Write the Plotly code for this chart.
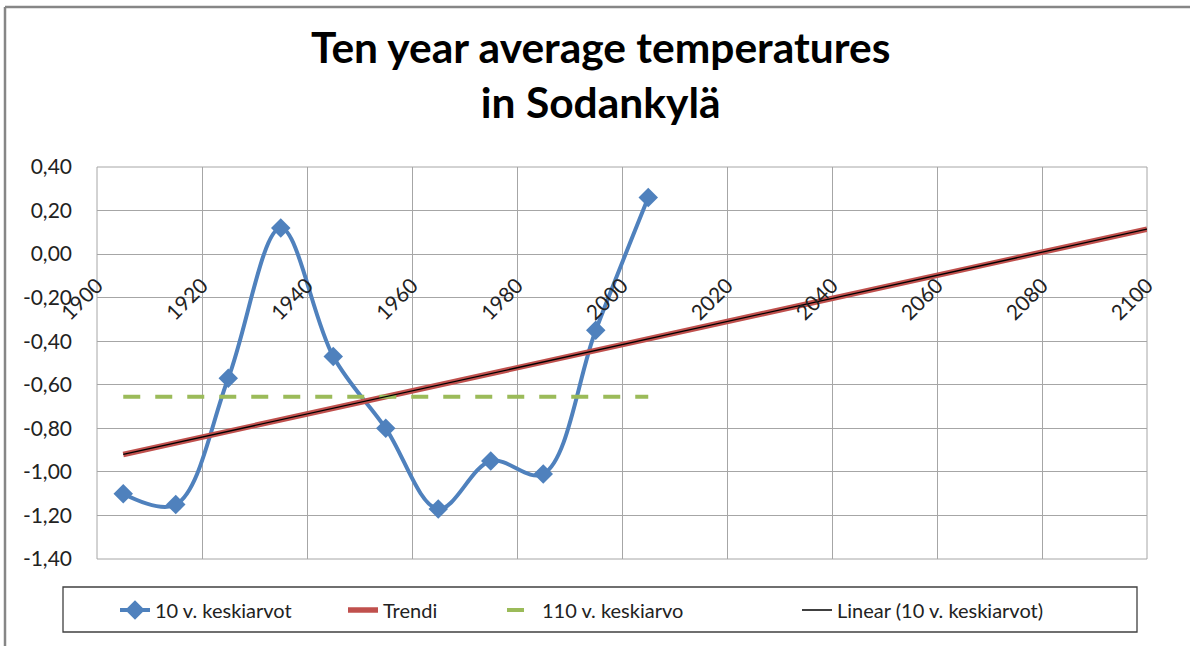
import plotly.graph_objects as go

# ---- data ----
decades = [1905, 1915, 1925, 1935, 1945, 1955, 1965, 1975, 1985, 1995, 2005]
avg10 = [-1.10, -1.15, -0.57, 0.12, -0.47, -0.80, -1.17, -0.95, -1.01, -0.35, 0.26]
trend_years = [1905, 2100]
trend_values = [-0.92, 0.115]
avg110_years = [1905, 2005]
avg110_values = [-0.655, -0.655]
x_ticks = [1900, 1920, 1940, 1960, 1980, 2000, 2020, 2040, 2060, 2080, 2100]
x_tick_labels = [str(v) for v in x_ticks]
y_ticks = [-1.4, -1.2, -1.0, -0.8, -0.6, -0.4, -0.2, 0.0, 0.2, 0.4]
y_tick_labels = ["-1,40", "-1,20", "-1,00", "-0,80", "-0,60", "-0,40", "-0,20", "0,00", "0,20", "0,40"]

FONT = "Lato"
W, H = 1190, 646
L, R, T, B = 97, 43, 167, 87
pw, ph = W - L - R, H - T - B

def px_x(p):
    return (p - L) / pw

def px_y(p):
    return (H - B - p) / ph

fig = go.Figure()

fig.add_trace(go.Scatter(
    x=decades, y=avg10, mode="lines+markers", name="10 v. keskiarvot",
    line=dict(color="#4F81BD", width=4, shape="spline", smoothing=1),
    marker=dict(symbol="diamond", size=15, color="#4F81BD"),
    legendwidth=183,
))
fig.add_trace(go.Scatter(
    x=trend_years, y=trend_values, mode="lines", name="Trendi",
    line=dict(color="#C0504D", width=5.5),
    legendwidth=114,
))
fig.add_trace(go.Scatter(
    x=avg110_years, y=avg110_values, mode="lines", name="110 v. keskiarvo",
    line=dict(color="#9BBB59", width=4, dash="17px,15px"),
    legendwidth=250,
))
fig.add_trace(go.Scatter(
    x=trend_years, y=trend_values, mode="lines", name="Linear (10 v. keskiarvot)",
    line=dict(color="#000000", width=1.3),
    legendwidth=280,
))

y0 = (0 - (-1.4)) / 1.8

fig.update_layout(
    width=W, height=H,
    margin=dict(l=L, r=R, t=T, b=B, pad=0),
    paper_bgcolor="white", plot_bgcolor="white",
    font=dict(family=FONT, size=20, color="#333333"),
    showlegend=True,
    legend=dict(
        orientation="h", x=px_x(115), xanchor="left", y=px_y(610), yanchor="middle",
        font=dict(family=FONT, size=20, color="#222222"),
        bgcolor="rgba(0,0,0,0)", borderwidth=0,
    ),
    xaxis=dict(
        range=[1900, 2100], tickvals=x_ticks, ticktext=x_tick_labels, tickangle=-45,
        showgrid=True, gridcolor="#A6A6A6", gridwidth=1, zeroline=False,
        showline=False, ticks="", anchor="free", position=y0,
        ticklabelstandoff=14,
        tickfont=dict(family=FONT, size=21, color="#222222"),
    ),
    yaxis=dict(
        range=[-1.4, 0.4], tickvals=y_ticks, ticktext=y_tick_labels,
        showgrid=True, gridcolor="#A6A6A6", gridwidth=1, zeroline=False,
        showline=False, ticks="", ticklabelstandoff=24,
        tickfont=dict(family=FONT, size=21, color="#222222"),
    ),
    annotations=[dict(
        text="<b>Ten year average temperatures<br>in Sodankylä</b>",
        xref="paper", yref="paper", x=px_x(600), y=px_y(19), xanchor="center", yanchor="top",
        showarrow=False, font=dict(family=FONT, size=42.5, color="#000000"),
    )],
    shapes=[
        dict(type="rect", xref="x domain", yref="y domain", x0=0, x1=1, y0=0, y1=1,
             line=dict(color="#A6A6A6", width=1), layer="below"),
        dict(type="rect", xref="paper", yref="paper",
             x0=px_x(63), x1=px_x(1137), y0=px_y(632), y1=px_y(587),
             line=dict(color="#404040", width=1.3)),
        dict(type="line", xref="paper", yref="paper",
             x0=px_x(5), x1=px_x(1200), y0=px_y(7), y1=px_y(7),
             line=dict(color="#868686", width=2.5)),
        dict(type="line", xref="paper", yref="paper",
             x0=px_x(5), x1=px_x(5), y0=px_y(7), y1=px_y(660),
             line=dict(color="#868686", width=2.5)),
    ],
)

fig.write_html("out.html", config={"displayModeBar": False},
               post_script="document.body.style.margin='0px';document.body.style.overflow='hidden';")
